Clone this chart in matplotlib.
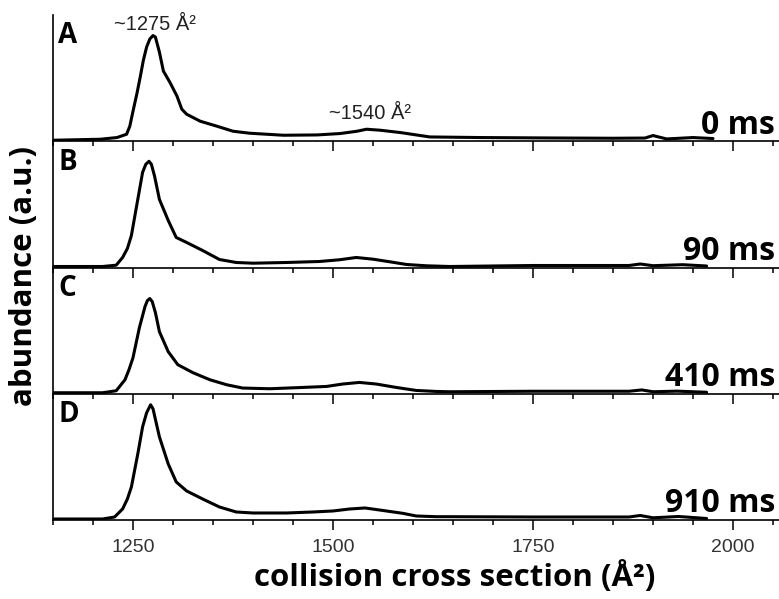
import matplotlib
matplotlib.use('Agg')
import matplotlib.pyplot as plt
from matplotlib.ticker import MultipleLocator

# collision cross section (A^2) and abundance (a.u.)
ccs_a = [1150, 1209, 1230, 1242, 1246, 1250, 1255, 1259, 1263, 1267, 1271, 1275, 1278, 1283,
         1288, 1296, 1305, 1311, 1317, 1334, 1355, 1375, 1396, 1438, 1480, 1509, 1530, 1542,
         1559, 1584, 1621, 1684, 1767, 1850, 1890, 1900, 1917, 1950, 1975]
abund_a = [0, 1, 2.7, 6, 14, 29, 47, 63, 80, 93, 101, 104.5, 103, 88,
           69, 58, 44, 31, 26, 19, 14, 9, 7, 5, 5.3, 6.7, 9, 11,
           10, 7.7, 3.3, 2.7, 2.3, 2, 2.2, 4.7, 1.3, 2.7, 1.7]

ccs_b = [1150, 1212, 1229, 1237, 1243, 1248, 1256, 1262, 1266, 1270, 1273, 1277, 1283, 1294,
         1304, 1317, 1337, 1358, 1379, 1400, 1442, 1483, 1508, 1529, 1550, 1571, 1592, 1617,
         1646, 1750, 1870, 1884, 1900, 1937, 1967]
abund_b = [0, 0, 1.3, 9, 18, 31, 67, 94, 102, 105, 102, 90, 67, 46,
           29, 24, 16, 7, 4, 3.3, 4, 5, 6.7, 9, 7.3, 4.7, 2, 0.7,
           0, 1, 1, 2.5, 0.8, 1.8, 0.5]

ccs_c = [1150, 1212, 1229, 1240, 1245, 1250, 1258, 1265, 1268, 1271, 1274, 1278, 1283, 1294,
         1306, 1325, 1346, 1367, 1387, 1421, 1462, 1492, 1512, 1533, 1554, 1579, 1604, 1629,
         1646, 1750, 1870, 1886, 1900, 1930, 1967]
abund_c = [0, 0, 2, 13, 23, 35, 65, 86, 92, 94, 91, 80, 61, 41,
           28, 20, 13, 8, 4.7, 4, 5.3, 6.3, 8.7, 10.3, 8.7, 5.3, 2.3, 1.3,
           1, 1.5, 1.5, 2.8, 1, 1.6, 0.5]

ccs_d = [1150, 1212, 1227, 1237, 1243, 1248, 1256, 1262, 1267, 1272, 1275, 1279, 1283, 1294,
         1304, 1317, 1337, 1358, 1379, 1400, 1442, 1475, 1500, 1521, 1540, 1558, 1587, 1604,
         1629, 1646, 1750, 1870, 1884, 1900, 1932, 1967]
abund_d = [0, 0, 2, 10, 20, 32, 65, 92, 106, 114, 110, 96, 82, 55,
           37, 28, 20, 12, 7, 6, 6, 7, 8, 10, 11, 9, 5.7, 3,
           2.3, 2.3, 2, 2, 3.5, 1.2, 2.5, 0.5]

panel_letters = ['A', 'B', 'C', 'D']
delays = ['0 ms', '90 ms', '410 ms', '910 ms']
traces = [(ccs_a, abund_a), (ccs_b, abund_b), (ccs_c, abund_c), (ccs_d, abund_d)]
peak_labels = [(1277, 110, '~1275 Å²'), (1546, 21, '~1540 Å²')]

bold_font = ['Open Sans', 'DejaVu Sans']
plain_font = ['Liberation Sans', 'DejaVu Sans']

fig = plt.figure(figsize=(7.79, 5.99), dpi=100)
left, right, top, bottom = 53 / 779, 1.0, 1 - 15 / 599, 1 - 520 / 599
h = (top - bottom) / 4

axes = []
for i, (x, y) in enumerate(traces):
    ax = fig.add_axes([left, top - (i + 1) * h, right - left, h])
    ax.plot(x, y, color='black', lw=2.2, solid_joinstyle='round', solid_capstyle='round')
    ax.set_xlim(1150, 2057.5)
    ax.set_ylim(-1, 125)
    for s in ['top', 'right']:
        ax.spines[s].set_visible(False)
    for s in ['left', 'bottom']:
        ax.spines[s].set_linewidth(1.2)
    ax.set_yticks([])
    ax.xaxis.set_major_locator(MultipleLocator(250))
    ax.xaxis.set_minor_locator(MultipleLocator(50))
    ax.tick_params(axis='x', which='major', direction='out', length=7, width=1.1)
    ax.tick_params(axis='x', which='minor', direction='out', length=3.5, width=1.1)
    ax.set_facecolor('none')
    if i < 3:
        ax.tick_params(axis='x', labelbottom=False)
    else:
        ax.tick_params(axis='x', labelsize=14, labelcolor='#333333', pad=7)
        for lab in ax.get_xticklabels():
            lab.set_family(plain_font)
    ax.text(0.007, 0.775, panel_letters[i], transform=ax.transAxes,
            fontsize=20, fontweight='bold', family=bold_font, va='baseline', ha='left')
    ax.text(0.9945, 0.06, delays[i], transform=ax.transAxes,
            fontsize=23, fontweight='bold', family=bold_font, va='baseline', ha='right')
    axes.append(ax)

for xp, yp, txt in peak_labels:
    axes[0].text(xp, yp, txt, fontsize=14.5, family=plain_font, color='#222222',
                 ha='center', va='baseline')

axes[3].set_xlabel('collision cross section (Å²)', fontsize=22.5, fontweight='bold',
                   family=bold_font, labelpad=3)
axes[3].xaxis.label.set_x((455 - 53) / 726)
fig.text(24 / 779, 1 - 276 / 599, 'abundance (a.u.)', rotation=90, fontsize=22.5,
         fontweight='bold', family=bold_font, ha='center', va='center')

fig.savefig('out.png', dpi=100)
